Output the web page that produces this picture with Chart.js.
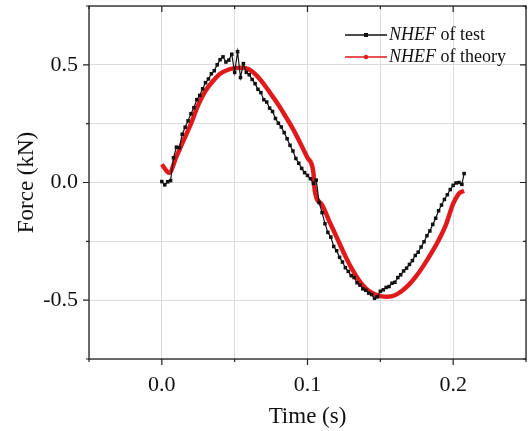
<!DOCTYPE html>
<html><head><meta charset="utf-8">
<script src="https://cdn.jsdelivr.net/npm/chart.js@4.4.0/dist/chart.umd.min.js"></script>
<style>html,body{margin:0;padding:0;background:#fff;}canvas{display:block;}</style>
</head><body>
<canvas id="c" width="530" height="431"></canvas>
<script>
// ---- data ----
const testTime = [0.000,0.002,0.004,0.006,0.008,0.010,0.012,0.014,0.016,0.018,0.020,0.022,0.024,0.026,0.028,0.030,0.032,0.034,0.036,0.038,0.040,0.042,0.044,0.046,0.048,0.050,0.052,0.054,0.056,0.058,0.060,0.062,0.064,0.066,0.068,0.070,0.072,0.074,0.076,0.078,0.080,0.082,0.084,0.086,0.088,0.090,0.092,0.094,0.096,0.098,0.100,0.102,0.104,0.106,0.108,0.110,0.112,0.114,0.116,0.118,0.120,0.122,0.124,0.126,0.128,0.130,0.132,0.134,0.136,0.138,0.140,0.142,0.144,0.146,0.148,0.150,0.152,0.154,0.156,0.158,0.160,0.162,0.164,0.166,0.168,0.170,0.172,0.174,0.176,0.178,0.180,0.182,0.184,0.186,0.188,0.190,0.192,0.194,0.196,0.198,0.200,0.202,0.204,0.206,0.2075];
const testForce = [0.004,-0.010,0.003,0.008,0.105,0.150,0.148,0.205,0.235,0.262,0.292,0.318,0.352,0.370,0.398,0.424,0.440,0.462,0.475,0.500,0.522,0.534,0.512,0.520,0.545,0.468,0.556,0.446,0.505,0.468,0.458,0.438,0.420,0.396,0.382,0.352,0.342,0.316,0.302,0.272,0.252,0.236,0.212,0.186,0.158,0.134,0.102,0.082,0.060,0.042,0.030,0.016,-0.004,0.010,-0.085,-0.128,-0.175,-0.212,-0.232,-0.272,-0.290,-0.318,-0.338,-0.362,-0.378,-0.396,-0.404,-0.426,-0.436,-0.452,-0.458,-0.470,-0.476,-0.492,-0.486,-0.462,-0.456,-0.446,-0.442,-0.428,-0.424,-0.404,-0.392,-0.376,-0.364,-0.348,-0.332,-0.310,-0.296,-0.274,-0.252,-0.226,-0.206,-0.178,-0.152,-0.120,-0.096,-0.072,-0.052,-0.030,-0.012,-0.002,0.000,-0.008,0.038];
const theoryTime = [0.000,0.005,0.010,0.015,0.020,0.025,0.030,0.035,0.040,0.045,0.050,0.055,0.060,0.065,0.070,0.075,0.080,0.085,0.090,0.095,0.100,0.104,0.105,0.110,0.115,0.120,0.125,0.130,0.135,0.140,0.145,0.150,0.155,0.160,0.165,0.170,0.175,0.180,0.185,0.190,0.195,0.200,0.203,0.205,0.2075];
const theoryForce = [0.077,0.041,0.110,0.180,0.250,0.330,0.390,0.430,0.462,0.478,0.486,0.488,0.480,0.455,0.418,0.375,0.330,0.280,0.228,0.168,0.105,0.045,-0.035,-0.095,-0.165,-0.232,-0.300,-0.362,-0.412,-0.450,-0.472,-0.483,-0.486,-0.479,-0.460,-0.432,-0.395,-0.350,-0.300,-0.245,-0.180,-0.090,-0.055,-0.042,-0.036];
const seriesItalic = ['NHEF', 'NHEF'];
const seriesRest = [' of test', ' of theory'];
const xTickValues = [0, 0.1, 0.2];
const xTickLabels = ['0.0', '0.1', '0.2'];
const yTickValues = [-0.5, 0, 0.5];
const yTickLabels = ['-0.5', '0.0', '0.5'];
const xTitle = 'Time (s)';
const yTitle = 'Force (kN)';

const FONT = "'Liberation Serif','Times New Roman',serif";
const RED = '#e01a1a';
const BLACK = '#111111';

function labelFor(vals, labels, v) {
  const i = vals.findIndex(t => Math.abs(t - v) < 1e-6);
  return i >= 0 ? labels[i] : '';
}

const frame = {
  id: 'frame',
  afterDraw(chart) {
    const {ctx, chartArea: a, scales: {x, y}} = chart;
    ctx.save();
    ctx.strokeStyle = '#222';
    ctx.lineWidth = 1.3;
    ctx.strokeRect(a.left, a.top, a.right - a.left, a.bottom - a.top);
    ctx.lineWidth = 1.2;
    ctx.beginPath();
    y.ticks.forEach(t => {
      const py = y.getPixelForValue(t.value);
      const major = labelFor(yTickValues, yTickLabels, t.value) !== '';
      const L = major ? 6 : 3;
      ctx.moveTo(a.left - L, py); ctx.lineTo(a.left, py);
      ctx.moveTo(a.right, py); ctx.lineTo(a.right - L, py);
    });
    x.ticks.forEach(t => {
      const px = x.getPixelForValue(t.value);
      const major = labelFor(xTickValues, xTickLabels, t.value) !== '';
      const L = major ? 6 : 3;
      ctx.moveTo(px, a.bottom); ctx.lineTo(px, a.bottom + L);
      ctx.moveTo(px, a.top); ctx.lineTo(px, a.top + L);
    });
    ctx.stroke();

    // legend
    const rows = [35, 57];
    const colors = [BLACK, RED];
    rows.forEach((ry, i) => {
      ctx.strokeStyle = colors[i];
      ctx.lineWidth = i === 0 ? 1.3 : 1.6;
      ctx.beginPath(); ctx.moveTo(345, ry); ctx.lineTo(387, ry); ctx.stroke();
      ctx.fillStyle = colors[i];
      if (i === 0) { ctx.fillRect(364, ry - 2, 4, 4); }
      else { ctx.beginPath(); ctx.arc(366, ry, 2.2, 0, Math.PI * 2); ctx.fill(); }
      ctx.fillStyle = '#111';
      ctx.textBaseline = 'middle';
      ctx.textAlign = 'left';
      ctx.font = "italic 18px " + FONT;
      ctx.fillText(seriesItalic[i], 389, ry);
      const w = ctx.measureText(seriesItalic[i]).width;
      ctx.font = "18px " + FONT;
      ctx.fillText(seriesRest[i], 389 + w, ry);
    });
    ctx.restore();
  }
};

new Chart(document.getElementById('c'), {
  type: 'scatter',
  data: {
    datasets: [
      {
        label: seriesItalic[1] + seriesRest[1],
        data: theoryTime.map((t, i) => ({x: t, y: theoryForce[i]})),
        showLine: true,
        borderColor: RED,
        backgroundColor: RED,
        borderWidth: 4.5,
        pointRadius: 0,
        cubicInterpolationMode: 'monotone',
        order: 1
      },
      {
        label: seriesItalic[0] + seriesRest[0],
        data: testTime.map((t, i) => ({x: t, y: testForce[i]})),
        showLine: true,
        borderColor: BLACK,
        backgroundColor: BLACK,
        borderWidth: 1.2,
        pointStyle: 'rect',
        pointRadius: 2.5,
        pointBorderWidth: 0,
        order: 0
      }
    ]
  },
  options: {
    responsive: false,
    animation: false,
    devicePixelRatio: 1,
    layout: {padding: {top: 6, right: 3, left: 0, bottom: 0}},
    plugins: {legend: {display: false}, tooltip: {enabled: false}},
    scales: {
      x: {
        type: 'linear', min: -0.05, max: 0.25,
        border: {display: false},
        grid: {color: '#dcdcdc', lineWidth: 1, drawTicks: false},
        ticks: {stepSize: 0.05, padding: 13, color: '#111', font: {family: FONT, size: 22},
          callback: v => labelFor(xTickValues, xTickLabels, v), maxRotation: 0, autoSkip: false},
        title: {display: true, text: xTitle, color: '#111', font: {family: FONT, size: 23}, padding: {top: 0, bottom: 0}},
        afterFit: s => { s.height = 72; s.paddingLeft = 0; s.paddingRight = 0; }
      },
      y: {
        type: 'linear', min: -0.75, max: 0.75,
        border: {display: false},
        grid: {color: '#dcdcdc', lineWidth: 1, drawTicks: false},
        ticks: {stepSize: 0.25, padding: 11, color: '#111', font: {family: FONT, size: 22},
          callback: v => labelFor(yTickValues, yTickLabels, v), autoSkip: false},
        title: {display: true, text: yTitle, color: '#111', font: {family: FONT, size: 23}, padding: {top: 13, bottom: 0}},
        afterFit: s => { s.width = 89; s.paddingTop = 0; s.paddingBottom = 0; }
      }
    }
  },
  plugins: [frame]
});
</script>
</body></html>
